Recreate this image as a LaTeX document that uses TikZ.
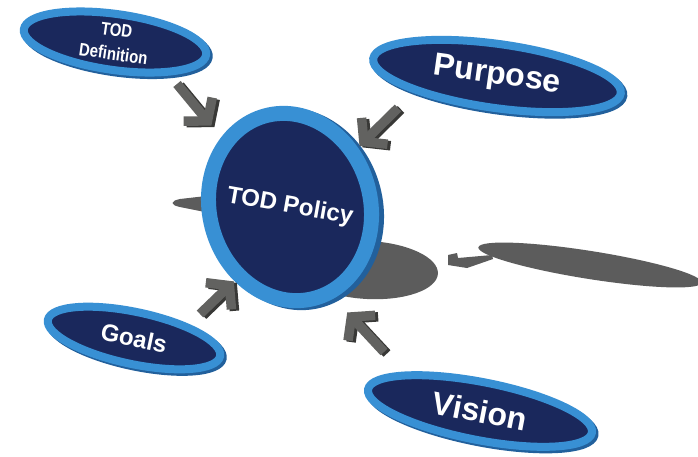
\documentclass[tikz,border=0pt]{standalone}
\usepackage{fontspec}
\usepackage{graphicx}
\setmainfont{Liberation Sans}
\usetikzlibrary{shapes, arrows.meta, calc}
\definecolor{Rim}{RGB}{56, 144, 212}
\definecolor{RimDark}{RGB}{34, 96, 156}
\definecolor{Navy}{RGB}{26, 40, 92}
\definecolor{ArrowFace}{RGB}{98, 98, 96}
\definecolor{ArrowDark}{RGB}{56, 56, 54}
\definecolor{Shade}{RGB}{92, 92, 92}

\begin{document}
\begin{tikzpicture}[x=1pt, y=-1pt,
            oval/.style={ellipse, draw=Rim, line width=8pt, fill=Navy, inner sep=0pt, text=white, align=center,
                preaction={draw=RimDark, fill=RimDark, line width=8pt, transform canvas={shift={(2.5pt,-2.5pt)}}}},
            disc/.style={ellipse, draw=Rim, line width=15pt, fill=Navy, inner sep=0pt, text=white,
                preaction={draw=RimDark, fill=RimDark, line width=15pt, transform canvas={shift={(5pt,-2pt)}}}},
            push/.style={line width=9.5pt, -{Straight Barb[length=15pt, width=37pt]}},
            pushface/.style={push, draw=ArrowFace},
            pushside/.style={push, draw=ArrowDark, transform canvas={shift={(3pt,-1.5pt)}}}
        ]
            \fill[white] (0,0) rectangle (698,456);
            \useasboundingbox (0,0) rectangle (698,456);

            % shadows on the ground
            \fill[Shade, rotate around={-9:(590,265)}] (590,265) ellipse [x radius=113, y radius=14];
            \fill[Shade] (448,255) -- (457,253) -- (458,258) -- (492,255) -- (493,259) -- (467,268) -- (448,265) -- cycle;
            \fill[Shade, rotate around={-3:(368,270)}] (368,270) ellipse [x radius=70, y radius=29];
            \fill[Shade] (215,195) -- (180,199) .. controls (170,201) and (170,205) .. (180,207) -- (215,214) -- cycle;

            \node[disc, rotate=15, minimum width=161pt, minimum height=189pt, font=\bfseries\fontsize{24}{28}\selectfont] (policy) at (290,207) {\makebox[0pt]{\rotatebox[origin=c]{-25}{TOD Policy}}};

            \node[oval, rotate=-8, minimum width=184pt, minimum height=56pt, font=\bfseries\fontsize{18}{24}\selectfont] (def) at (115,42) {\scalebox{0.83}[1]{TOD}\\\scalebox{0.83}[1]{Definition}};
            \node[oval, rotate=-8, minimum width=250pt, minimum height=64pt, font=\bfseries\fontsize{32}{36}\selectfont] (purpose) at (497,76) {Purpose};
            \node[oval, rotate=-12, minimum width=176pt, minimum height=52pt, font=\bfseries\fontsize{24}{28}\selectfont] (goals) at (134,338) {Goals};
            \node[oval, rotate=-11, minimum width=228pt, minimum height=58pt, font=\bfseries\fontsize{32}{36}\selectfont] (vision) at (480,411) {Vision};

            \coordinate (defTail) at (177,84);
            \coordinate (purposeTail) at (398,108);
            \coordinate (goalsTail) at (200,314);
            \coordinate (visionTail) at (384,352);

            \draw[pushside] (defTail) -- ($(defTail)!54pt!-3:(policy)$);
            \draw[pushface] (defTail) -- ($(defTail)!54pt!-3:(policy)$);
            \draw[pushside] (purposeTail) -- ($(purposeTail)!54pt!2:(policy)$);
            \draw[pushface] (purposeTail) -- ($(purposeTail)!54pt!2:(policy)$);
            \draw[pushside] (goalsTail) -- ($(goalsTail)!47pt!-6:(policy)$);
            \draw[pushface] (goalsTail) -- ($(goalsTail)!47pt!-6:(policy)$);
            \draw[pushside] (visionTail) -- ($(visionTail)!54pt!10:(policy)$);
            \draw[pushface] (visionTail) -- ($(visionTail)!54pt!10:(policy)$);
        \end{tikzpicture}
\end{document}
